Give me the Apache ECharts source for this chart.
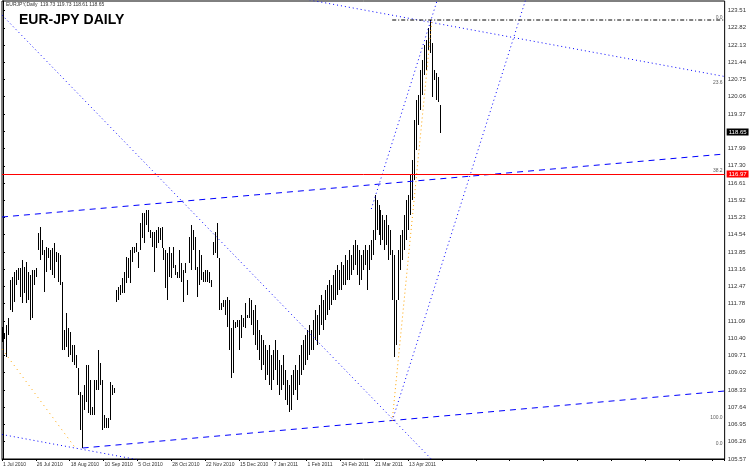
<!DOCTYPE html>
<html><head><meta charset="utf-8">
<script src="https://cdn.jsdelivr.net/npm/echarts@6/dist/echarts.min.js"></script>
<style>html,body{margin:0;padding:0;background:#fff}#c{width:749px;height:469px}</style>
</head><body><div id="c"></div>
<script>
// ---- data ----
const chartTitle = 'EUR-JPY DAILY';
const headerText = 'EURJPY,Daily  119.73 119.73 118.61 118.65';
const dateLabels = ['1 Jul 2010','26 Jul 2010','18 Aug 2010','10 Sep 2010','5 Oct 2010','28 Oct 2010','22 Nov 2010','15 Dec 2010','7 Jan 2011','1 Feb 2011','24 Feb 2011','21 Mar 2011','13 Apr 2011'];
const labelEvery = 17;      // bars between date labels
const totalSlots = 363;     // bar slots visible in the window (incl. empty right margin)
const yMin = 105.57, yMax = 123.89, yStep = 0.69;
const lastPrice = 118.65;
const hLinePrice = 116.97;
// [open, close, low, high]
const ohlc = [
[110.85,110.25,110.25,110.85],[110.37,110.61,110.37,110.61],[109.65,110.93,109.65,110.93],[110.53,111.21,110.53,111.21],
[111.53,112.73,111.53,112.73],[111.45,112.85,111.45,112.85],[111.85,113.05,111.85,113.05],[112.53,113.13,112.53,113.13],
[113.21,112.73,112.73,113.21],[112.05,113.21,112.05,113.21],[113.53,111.81,111.81,113.53],[112.21,113.25,112.21,113.25],
[113.45,111.81,111.81,113.45],[113.05,111.93,111.93,113.05],[111.13,112.93,111.13,112.93],[111.21,113.13,111.21,113.13],
[112.53,113.13,112.53,113.13],[112.85,113.21,112.85,113.21],[113.93,114.61,113.93,114.61],[114.85,113.53,113.53,114.85],
[114.33,113.73,113.73,114.33],[112.25,113.93,112.25,113.93],[114.05,113.05,113.05,114.05],[114.01,113.61,113.61,114.01],
[113.13,113.93,113.13,113.93],[112.93,114.01,112.93,114.01],[114.21,112.81,112.81,114.21],[113.85,113.45,113.45,113.85],
[113.81,112.65,112.65,113.81],[113.73,112.53,112.53,113.73],[112.65,109.93,109.93,112.65],[109.93,110.73,109.93,110.73],
[111.41,110.05,110.05,111.41],[110.81,109.65,109.65,110.81],[110.65,109.73,109.73,110.65],[110.13,109.45,109.45,110.13],
[110.13,109.33,109.33,110.13],[109.73,109.21,109.21,109.73],[109.21,108.13,108.13,109.21],[108.25,106.73,106.73,108.25],
[106.01,108.13,106.01,108.13],[107.53,108.53,107.53,108.53],[109.33,107.85,107.85,109.33],[109.33,107.41,107.41,109.33],
[108.73,107.33,107.33,108.73],[107.33,107.65,107.33,107.65],[107.33,108.73,107.33,108.73],[108.33,108.73,108.33,108.73],
[109.93,108.33,108.33,109.93],[109.41,108.53,108.53,109.41],[108.73,106.73,106.73,108.73],[107.33,106.81,106.81,107.33],
[106.81,107.21,106.81,107.21],[106.81,107.21,106.81,107.21],[108.65,107.13,107.13,108.65],[108.13,108.53,108.13,108.53],
[108.21,108.41,108.21,108.41],[111.85,112.33,111.85,112.33],[111.93,112.45,111.93,112.45],[112.13,112.53,112.13,112.53],
[112.21,112.81,112.21,112.81],[112.21,113.05,112.21,113.05],[112.61,113.65,112.61,113.65],[112.81,113.61,112.81,113.61],
[112.61,113.93,112.61,113.93],[113.45,114.05,113.45,114.05],[113.81,114.05,113.81,114.05],[114.21,113.85,113.85,114.21],
[113.21,113.85,113.21,113.85],[113.93,115.01,113.93,115.01],[115.41,114.41,114.41,115.41],[114.21,115.41,114.21,115.41],
[114.93,115.53,114.93,115.53],[115.53,114.65,114.65,115.53],[114.73,114.41,114.41,114.73],[114.65,114.05,114.05,114.65],
[113.05,114.65,113.05,114.65],[114.01,114.73,114.01,114.73],[114.85,114.21,114.21,114.85],[114.81,114.33,114.33,114.81],
[114.85,114.01,114.01,114.85],[114.01,113.53,113.53,114.01],[113.93,112.41,112.41,113.93],[111.93,113.81,111.93,113.81],
[114.05,112.85,112.85,114.05],[112.81,113.81,112.81,113.81],[114.05,113.21,113.21,114.05],[113.33,112.93,112.93,113.33],
[112.81,113.05,112.81,113.05],[113.93,112.81,112.81,113.93],[113.41,112.65,112.65,113.41],[111.85,113.13,111.85,113.13],
[113.41,113.01,113.01,113.41],[112.13,112.73,112.13,112.73],[113.41,114.45,113.41,114.45],[114.93,113.13,113.13,114.93],
[114.73,113.93,113.93,114.73],[114.45,113.13,113.13,114.45],[112.05,113.25,112.05,113.25],[113.93,112.53,112.53,113.93],
[113.73,112.73,112.73,113.73],[112.65,113.05,112.65,113.05],[113.13,112.65,112.65,113.13],[113.13,112.65,112.65,113.13],
[113.05,112.61,112.61,113.05],[112.45,112.73,112.45,112.73],[113.73,114.25,113.73,114.25],[113.81,114.65,113.81,114.65],
[115.01,113.61,113.61,115.01],[113.61,111.53,111.53,113.61],[111.53,111.81,111.53,111.81],[111.93,111.65,111.65,111.93],
[111.93,111.33,111.33,111.93],[112.05,110.85,110.85,112.05],[111.93,109.93,109.93,111.93],[108.81,110.81,108.81,110.81],
[109.01,111.13,109.01,111.13],[110.81,111.05,110.81,111.05],[111.13,110.85,110.85,111.13],[109.93,111.13,109.93,111.13],
[111.33,110.41,110.41,111.33],[110.85,111.21,110.85,111.21],[111.81,110.81,110.81,111.81],[111.21,111.33,111.21,111.33],
[112.01,111.21,111.21,112.01],[111.93,110.93,110.93,111.93],[111.53,110.53,110.53,111.53],[111.73,110.13,110.13,111.73],
[111.13,109.93,109.93,111.13],[110.73,109.53,109.53,110.73],[109.13,110.53,109.13,110.53],[110.33,109.33,109.33,110.33],
[108.73,110.13,108.73,110.13],[108.93,109.93,108.93,109.93],[110.13,108.53,108.53,110.13],[108.33,109.73,108.33,109.73],
[108.73,109.93,108.73,109.93],[110.33,109.13,109.13,110.33],[109.93,108.53,108.53,109.93],[108.13,109.53,108.13,109.53],
[108.33,109.33,108.33,109.33],[109.73,108.53,108.53,109.73],[109.13,107.93,107.93,109.13],[108.73,107.73,107.73,108.73],
[107.45,108.53,107.45,108.53],[107.53,108.93,107.53,108.93],[108.13,109.13,108.13,109.13],[109.33,108.33,108.33,109.33],
[107.93,109.13,107.93,109.13],[108.53,109.73,108.53,109.73],[108.93,110.13,108.93,110.13],[109.13,110.33,109.13,110.33],
[109.33,110.53,109.33,110.53],[109.53,110.73,109.53,110.73],[110.93,109.73,109.73,110.93],[109.93,110.73,109.93,110.73],
[109.93,111.13,109.93,111.13],[111.53,110.33,110.33,111.53],[110.13,111.33,110.13,111.33],[110.53,111.73,110.53,111.73],
[112.13,110.93,110.93,112.13],[110.73,111.93,110.73,111.93],[111.13,112.33,111.13,112.33],[111.33,112.53,111.33,112.53],
[112.73,111.53,111.53,112.73],[111.73,112.53,111.73,112.53],[111.93,112.93,111.93,112.93],[111.93,113.13,111.93,113.13],
[113.33,112.13,112.13,113.33],[112.33,113.13,112.33,113.13],[113.45,112.33,112.33,113.45],[112.53,113.33,112.53,113.33],
[113.73,112.53,112.53,113.73],[112.73,113.53,112.73,113.53],[113.93,112.73,112.73,113.93],[112.93,113.73,112.93,113.73],
[113.13,114.13,113.13,114.13],[114.33,113.33,113.33,114.33],[114.13,112.93,112.93,114.13],[113.93,112.53,112.53,113.93],
[112.73,113.73,112.73,113.73],[113.13,113.93,113.13,113.93],[114.13,113.33,113.33,114.13],[112.33,113.93,112.33,113.93],
[113.13,114.13,113.13,114.13],[113.53,114.33,113.53,114.33],[113.73,114.73,113.73,114.73],[116.13,114.33,114.33,116.13],
[115.93,114.73,114.73,115.93],[115.73,114.53,114.53,115.73],[115.53,114.13,114.13,115.53],[115.33,114.33,114.33,115.33],
[113.93,115.13,113.93,115.13],[115.33,114.13,114.13,115.33],[114.93,113.53,113.53,114.93],[114.73,113.73,113.73,114.73],
[113.93,111.93,111.93,113.93],[113.73,109.65,109.65,113.73],[110.13,111.93,110.13,111.93],[111.93,113.93,111.93,113.93],
[113.13,114.53,113.13,114.53],[113.53,114.73,113.53,114.73],[113.93,115.33,113.93,115.33],[114.33,115.93,114.33,115.93],
[114.73,116.13,114.73,116.13],[115.33,116.93,115.33,116.93],[115.93,117.53,115.93,117.53],[116.73,119.13,116.73,119.13],
[117.93,119.93,117.93,119.93],[118.93,120.13,118.93,120.13],[119.53,121.13,119.53,121.13],[120.13,121.53,120.13,121.53],
[120.93,122.13,120.93,122.13],[121.13,122.33,121.13,122.33],[121.93,122.81,121.93,122.81],[123.13,121.81,121.81,123.13],
[122.21,120.05,120.05,122.21],[121.13,120.73,120.73,121.13],[121.01,119.93,119.93,121.01],[120.85,119.85,119.85,120.85],
[119.73,118.65,118.61,119.73]
];
// drawn objects: [barIndex, price] anchors
const upperChannel = [[-0.5,115.25],[362.5,117.77]];
const lowerChannel = [[40,106.01],[362.5,108.29]];
const lowerDotted  = [[-0.5,106.55],[74,105.45]];
const upperDotted  = [[150,123.99],[362.5,120.87]];
const longDiagonal = [[-0.5,123.33],[219,105.25]];
const steepLow     = [[195.5,107.09],[262.5,123.93]];
const steepHigh    = [[185,115.57],[218.15,123.93]];
const fibDiagonal  = [[195.5,107.09],[215.5,123.17]];
const oldDiagonal  = [[-0.5,109.97],[36,106.05]];
const fibZero      = [[195.5,123.13],[362.5,123.13]];
const levelTags    = [[362,123.21,'0.0'],[362,120.61,'23.6'],[362,117.09,'38.2'],[362,107.21,'100.0'],[362,106.17,'0.0']];

// ---- build ----
const cats = [];
for (let i = 0; i < totalSlots; i++) {
  cats.push(i < ohlc.length && i % labelEvery === 0 ? (dateLabels[i / labelEvery] || '') : '');
}
const FONT = 'Liberation Sans, Arial, sans-serif';
function line(data, color, type, width) {
  return {type:'line', xAxisIndex:1, yAxisIndex:0, data:data, symbol:'none', silent:true, clip:true,
    lineStyle:{color:color, type:type, width:width||1}, z:3, animation:false};
}
const chart = echarts.init(document.getElementById('c'), null, {renderer:'canvas'});
chart.setOption({
  animation:false,
  backgroundColor:'#fff',
  title:[
    {text:chartTitle, left:19, top:13, padding:0, textStyle:{fontSize:14, fontWeight:'bold', color:'#000', fontFamily:FONT}},
    {text:headerText, left:6, top:2, padding:0, textStyle:{fontSize:5, fontWeight:'normal', color:'#333', fontFamily:FONT}}
  ],
  grid:{left:1, right:22, top:1, bottom:10, show:true, borderColor:'#000', borderWidth:1, backgroundColor:'#fff'},
  xAxis:[
    {type:'category', data:cats, boundaryGap:true, gridIndex:0,
     axisLine:{show:true, lineStyle:{color:'#000'}},
     axisTick:{show:true, length:2, interval:labelEvery-1, lineStyle:{color:'#000'}},
     axisLabel:{interval:labelEvery-1, fontSize:5, color:'#333', align:'left', margin:3, fontFamily:FONT},
     splitLine:{show:false}},
    {type:'value', min:-0.5, max:totalSlots-0.5, show:false, gridIndex:0}
  ],
  yAxis:[{type:'value', position:'right', min:yMin, max:yMax, interval:yStep, scale:true,
    axisLine:{show:true, lineStyle:{color:'#000'}},
    axisTick:{show:true, length:2, lineStyle:{color:'#000'}},
    axisLabel:{fontSize:6, color:'#333', margin:3, fontFamily:FONT, showMaxLabel:false,
      formatter:function(v){return v.toFixed(2);}},
    splitLine:{show:false}}],
  series:[
    {type:'candlestick', xAxisIndex:0, yAxisIndex:0, data:ohlc, barWidth:0.01, z:2,
     itemStyle:{color:'#000', color0:'#000', borderColor:'#000', borderColor0:'#000', borderWidth:1},
     markLine:{symbol:'none', silent:true, animation:false, precision:2,
       data:[
        {yAxis:hLinePrice, lineStyle:{color:'#ff0000', width:1, type:'solid'},
         label:{show:true, position:'end', distance:2, formatter:hLinePrice.toFixed(2), color:'#fff', backgroundColor:'#ff0000', fontSize:6, padding:[1,2,0,2], fontFamily:FONT}},
        {yAxis:lastPrice, lineStyle:{color:'rgba(0,0,0,0)', width:0.1},
         label:{show:true, position:'end', distance:2, formatter:lastPrice.toFixed(2), color:'#fff', backgroundColor:'#000', fontSize:6, padding:[1,2,0,2], fontFamily:FONT}}
       ]}},
    line(upperChannel, '#0000ff', [6,5]),
    line(lowerChannel, '#0000ff', [6,5]),
    line(lowerDotted, '#0000ff', [1,3]),
    line(upperDotted, '#0000ff', [1,3]),
    line(longDiagonal, '#0000ff', [1,3]),
    line(steepLow, '#0000ff', [1,3]),
    line(steepHigh, '#0000ff', [1,3]),
    line(fibDiagonal, '#ffa500', [1,3]),
    line(oldDiagonal, '#ffa500', [1,4]),
    line(fibZero, '#000', [4,2,1,2]),
    {type:'scatter', xAxisIndex:1, yAxisIndex:0, data:levelTags, symbolSize:0, silent:true, z:4,
     label:{show:true, position:'left', distance:1, fontSize:5, color:'#333', fontFamily:FONT,
       formatter:function(p){return p.value[2];}}}
  ]
});
</script></body></html>
